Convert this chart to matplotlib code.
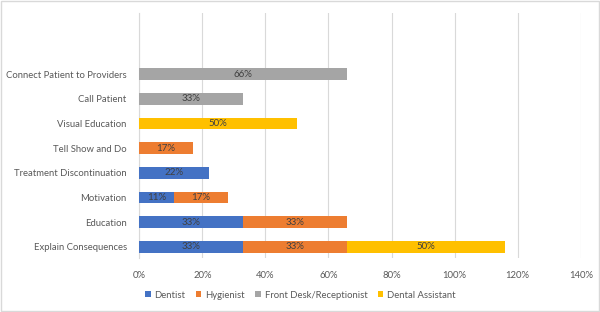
import numpy as np
import matplotlib.pyplot as plt
from matplotlib.patches import Rectangle

plt.rcParams['font.family'] = ['Lato', 'DejaVu Sans']

categories = ['Explain Consequences', 'Education', 'Motivation', 'Treatment Discontinuation',
              'Tell Show and Do', 'Visual Education', 'Call Patient', 'Connect Patient to Providers']
series = ['Dentist', 'Hygienist', 'Front Desk/Receptionist', 'Dental Assistant']
dentist = [33, 33, 11, 22, 0, 0, 0, 0]
hygienist = [33, 33, 17, 0, 17, 0, 0, 0]
front_desk = [0, 0, 0, 0, 0, 0, 33, 66]
assistant = [50, 0, 0, 0, 0, 50, 0, 0]
xticks = [0, 20, 40, 60, 80, 100, 120, 140]

colors = ['#4472C4', '#ED7D31', '#A5A5A5', '#FFC000']
values = [dentist, hygienist, front_desk, assistant]

fig = plt.figure(figsize=(6, 3.12), dpi=100)
ax = fig.add_axes([0.232, 0.173, 0.736, 0.785])
fig.patches.append(Rectangle((0.002, 0.003), 0.996, 0.994, transform=fig.transFigure,
                             fill=False, edgecolor='#d9d9d9', linewidth=1))

y = np.arange(len(categories))
left = np.zeros(len(categories))
for name, vals, col in zip(series, values, colors):
    vals = np.array(vals, dtype=float)
    ax.barh(y, vals, left=left, height=0.47, color=col, label=name, zorder=3)
    for yi, v, l in zip(y, vals, left):
        if v > 0:
            ax.text(l + v / 2, yi, '%d%%' % v, ha='center', va='center',
                    fontsize=7, color='#404040', zorder=4)
    left = left + vals

ax.set_xlim(0, 140)
ax.set_ylim(-0.45, 9.47)
ax.set_xticks(xticks)
ax.set_xticklabels(['%d%%' % t for t in xticks])
ax.set_yticks(y)
ax.set_yticklabels(categories)
ax.tick_params(axis='both', length=0, labelsize=6.8, colors='#595959')
ax.tick_params(axis='x', pad=9)
ax.tick_params(axis='y', pad=9)
ax.grid(axis='x', color='#d9d9d9', linewidth=0.8, zorder=0)
for s in ['top', 'right', 'bottom']:
    ax.spines[s].set_visible(False)
ax.spines['left'].set_color('#d9d9d9')

ax.legend(loc='center', bbox_to_anchor=(0.365, -0.152), ncol=4, frameon=False,
          fontsize=6.8, handlelength=0.6, handleheight=0.6, handletextpad=0.4,
          columnspacing=1.1, labelcolor='#595959')

fig.savefig('out.png', dpi=100)
